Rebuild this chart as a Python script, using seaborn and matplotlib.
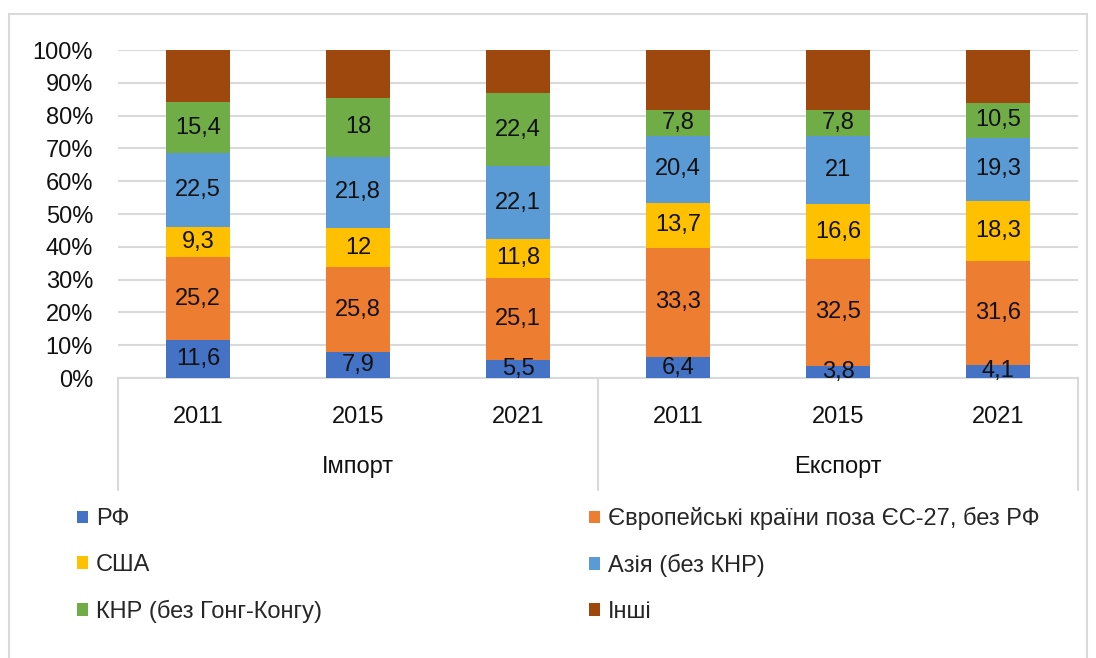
import numpy as np
import pandas as pd
import matplotlib
matplotlib.use("Agg")
import matplotlib.pyplot as plt
import seaborn as sns
from matplotlib.patches import Patch, Rectangle
from matplotlib.lines import Line2D
from matplotlib.ticker import PercentFormatter

# data (shares, %)
groups = ["Імпорт", "Імпорт", "Імпорт", "Експорт", "Експорт", "Експорт"]
years = ["2011", "2015", "2021", "2011", "2015", "2021"]
series_names = ["РФ", "Європейські країни поза ЄС-27, без РФ", "США",
                "Азія (без КНР)", "КНР (без Гонг-Конгу)", "Інші"]
rf = [11.6, 7.9, 5.5, 6.4, 3.8, 4.1]
europe = [25.2, 25.8, 25.1, 33.3, 32.5, 31.6]
usa = [9.3, 12, 11.8, 13.7, 16.6, 18.3]
asia = [22.5, 21.8, 22.1, 20.4, 21, 19.3]
china = [15.4, 18, 22.4, 7.8, 7.8, 10.5]
colors = ["#4472C4", "#ED7D31", "#FFC000", "#5B9BD5", "#70AD47", "#9E480E"]

known = np.array([rf, europe, usa, asia, china])
others = 100 - known.sum(axis=0)
values = np.vstack([known, others])
cum = values.cumsum(axis=0)

sns.set_theme(style="white")
plt.rcParams["font.family"] = ["Liberation Sans", "DejaVu Sans"]
FS = 17

fig = plt.figure(figsize=(10.96, 6.58), dpi=100)
ax = fig.add_axes([118 / 1096, 1 - 378 / 658, 960 / 1096, 328 / 658])

cats = [f"{g} {y}" for g, y in zip(groups, years)]
# draw tallest first so smaller cumulative bars sit on top
for i in range(len(series_names) - 1, -1, -1):
    df = pd.DataFrame({"cat": cats, "val": cum[i] / 100})
    sns.barplot(data=df, x="cat", y="val", color=colors[i], width=0.4,
                saturation=1, edgecolor="none", linewidth=0, ax=ax, zorder=3)

# value labels (no label for "Інші")
for i in range(len(series_names) - 1):
    for j in range(len(cats)):
        v = values[i, j]
        txt = f"{v:g}".replace(".", ",")
        ax.text(j, (cum[i, j] - v / 2) / 100, txt, ha="center", va="center",
                fontsize=FS, color="#111111", zorder=5)

ax.set_ylim(0, 1)
ax.set_xlim(-0.5, len(cats) - 0.5)
ax.set_yticks(np.arange(0, 1.01, 0.1))
ax.yaxis.set_major_formatter(PercentFormatter(1.0, decimals=0))
ax.set_xticks(range(len(cats)))
ax.set_xticklabels(years)
ax.tick_params(axis="y", length=0, pad=18, labelsize=FS, colors="#111111")
ax.tick_params(axis="x", length=0, pad=20, labelsize=FS, colors="#111111")
ax.set_xlabel("")
ax.set_ylabel("")
ax.grid(axis="y", color="#d9d9d9", lw=1.5, zorder=0)
ax.set_axisbelow(True)
for s in ["top", "right", "left"]:
    ax.spines[s].set_visible(False)
ax.spines["bottom"].set_color("#d9d9d9")
ax.spines["bottom"].set_linewidth(1.5)

# grouped category axis
for xb in [-0.5, 2.5, 5.5]:
    ax.add_line(Line2D([xb, xb], [0, -0.34], color="#d9d9d9", lw=1.5,
                       transform=ax.get_xaxis_transform(), clip_on=False))
ax.text(1, -0.27, "Імпорт", ha="center", va="center", fontsize=FS,
        color="#111111", transform=ax.get_xaxis_transform())
ax.text(4, -0.27, "Експорт", ha="center", va="center", fontsize=FS,
        color="#111111", transform=ax.get_xaxis_transform())

# legend, row-major order in two columns
handles = [Patch(facecolor=c, edgecolor="none") for c in colors]
order = [0, 2, 4, 1, 3, 5]
fig.legend([handles[k] for k in order], [series_names[k] for k in order],
           ncol=2, loc="upper left", bbox_to_anchor=(56 / 1096, 1 - 486 / 658),
           frameon=False, fontsize=FS, handlelength=0.45, handleheight=0.45,
           handletextpad=0.35, columnspacing=11.3, labelspacing=1.0)

# outer chart border
fig.patches.append(Rectangle((9 / 1096, -0.02), 1078 / 1096, 1 - 14 / 658 + 0.02,
                             transform=fig.transFigure, fill=False,
                             edgecolor="#d9d9d9", lw=1.5))

fig.savefig("out.png", dpi=100)
